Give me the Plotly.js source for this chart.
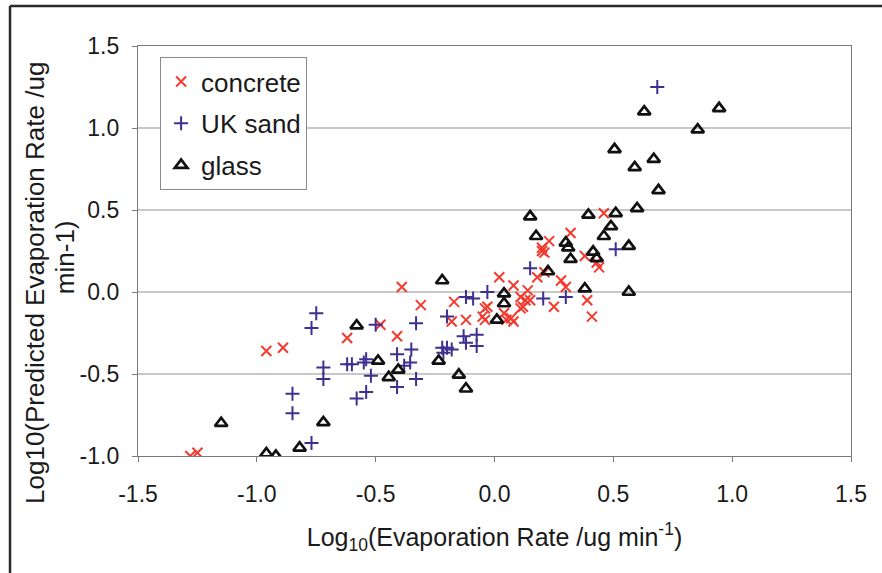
<!DOCTYPE html>
<html>
<head>
<meta charset="utf-8">
<script src="https://cdn.plot.ly/plotly-3.0.1.min.js"></script>
<style>
html,body{margin:0;padding:0;background:#fff;}
#chart{width:882px;height:573px;}
</style>
</head>
<body>
<div id="chart"></div>
<script>
// ---- data ----
const seriesNames = ["concrete", "UK sand", "glass"];

const concreteX = [-1.28,-1.25,-0.96,-0.89,-0.62,-0.48,-0.39,-0.31,-0.41,-0.18,-0.17,-0.12,-0.05,-0.04,-0.03,-0.04,
  0.02,0.08,0.11,0.14,0.15,0.11,0.07,0.04,0.05,0.18,0.21,0.25,0.28,0.30,0.39,0.41,0.20,0.20,0.21,0.23,0.32,0.38,0.44,0.43,0.46,0.12,0.08,0.13];
const concreteY = [-1.00,-0.98,-0.36,-0.34,-0.28,-0.20,0.03,-0.08,-0.27,-0.18,-0.06,-0.17,-0.15,-0.17,-0.09,-0.10,
  0.09,0.04,-0.03,0.01,-0.05,-0.10,-0.16,-0.13,-0.17,0.09,0.12,-0.09,0.07,0.03,-0.05,-0.15,0.25,0.27,0.24,0.31,0.36,0.22,0.15,0.18,0.48,-0.09,-0.18,-0.05];

const sandX = [-0.85,-0.85,-0.77,-0.77,-0.75,-0.72,-0.72,-0.62,-0.60,-0.55,-0.54,-0.52,-0.54,-0.58,-0.50,
  -0.41,-0.41,-0.38,-0.355,-0.35,-0.33,-0.33,-0.22,-0.20,-0.18,-0.215,-0.20,-0.13,-0.12,-0.075,-0.075,
  -0.12,-0.09,-0.03,0.15,0.205,0.30,0.51,0.685];
const sandY = [-0.62,-0.74,-0.92,-0.22,-0.13,-0.46,-0.53,-0.44,-0.44,-0.43,-0.41,-0.51,-0.61,-0.65,-0.20,
  -0.38,-0.58,-0.45,-0.43,-0.35,-0.53,-0.19,-0.34,-0.34,-0.35,-0.37,-0.15,-0.27,-0.31,-0.26,-0.33,
  -0.03,-0.04,0.00,0.145,-0.04,-0.03,0.26,1.25];

const glassX = [-1.15,-0.96,-0.92,-0.82,-0.72,-0.58,-0.49,-0.445,-0.405,-0.22,-0.235,-0.15,-0.12,
  0.04,0.04,0.01,0.15,0.175,0.225,0.30,0.31,0.32,0.38,0.395,0.415,0.43,0.46,0.49,0.51,0.565,0.565,
  0.60,0.59,0.505,0.63,0.67,0.69,0.855,0.945];
const glassY = [-0.80,-0.985,-1.00,-0.95,-0.795,-0.205,-0.42,-0.52,-0.475,0.07,-0.42,-0.505,-0.59,
  -0.01,-0.07,-0.17,0.46,0.34,0.125,0.30,0.27,0.20,0.02,0.47,0.245,0.205,0.34,0.40,0.48,0.28,0.00,
  0.51,0.76,0.87,1.10,0.81,0.62,0.99,1.12];

const xTickVals = [-1.5,-1.0,-0.5,0.0,0.5,1.0,1.5];
const xTickText = ["-1.5","-1.0","-0.5","0.0","0.5","1.0","1.5"];
const yTickVals = [-1.0,-0.5,0.0,0.5,1.0,1.5];
const yTickText = ["-1.0","-0.5","0.0","0.5","1.0","1.5"];

const xTitle = "Log<sub>10</sub>(Evaporation Rate /ug min<sup>-1</sup>)";
const yTitleLine1 = "Log10(Predicted Evaporation Rate /ug";
const yTitleLine2 = "min-1)";

// ---- traces ----
const FONT = "Liberation Sans, Arial, sans-serif";
const traces = [
  {x: concreteX, y: concreteY, name: seriesNames[0], type: "scatter", mode: "markers", legendgroup: "a",
   marker: {symbol: "x-thin", size: 10, line: {color: "#f43a2e", width: 2}, color: "#f43a2e"}},
  {x: sandX, y: sandY, name: seriesNames[1], type: "scatter", mode: "markers", legendgroup: "b",
   marker: {symbol: "cross-thin", size: 10, line: {color: "#3f2f8f", width: 2}, color: "#3f2f8f"}},
  {x: glassX, y: glassY, name: seriesNames[2], type: "scatter", mode: "markers", legendgroup: "c",
   marker: {symbol: "triangle-up-open", size: 11, color: "#111111", line: {color: "#111111", width: 2.7}}}
];

const layout = {
  width: 882, height: 573,
  margin: {l: 138, r: 31, t: 46, b: 117},
  paper_bgcolor: "#ffffff", plot_bgcolor: "#ffffff",
  font: {family: FONT, color: "#1a1a1a", size: 23},
  showlegend: true,
  legend: {
    x: 0.031, y: 0.973, xanchor: "left", yanchor: "top",
    bgcolor: "#ffffff", bordercolor: "#8a8a8a", borderwidth: 1,
    font: {family: FONT, size: 26, color: "#1a1a1a"},
    tracegroupgap: 5, traceorder: "grouped", itemwidth: 30
  },
  xaxis: {
    range: [-1.5, 1.5], tickvals: xTickVals, ticktext: xTickText,
    showgrid: false, zeroline: false,
    showline: true, linecolor: "#7a7a7a", linewidth: 1.2, mirror: true,
    ticks: "outside", ticklen: 5, tickcolor: "#7a7a7a",
    tickfont: {family: FONT, size: 23, color: "#1a1a1a"},
    ticklabelstandoff: 12,
    title: {text: xTitle, font: {family: FONT, size: 25, color: "#1a1a1a"}, standoff: 22}
  },
  yaxis: {
    range: [-1.0, 1.5], tickvals: yTickVals, ticktext: yTickText,
    showgrid: true, gridcolor: "#c8c8c8", gridwidth: 1.2, zeroline: false,
    showline: true, linecolor: "#7a7a7a", linewidth: 1.2, mirror: true,
    ticks: "outside", ticklen: 5, tickcolor: "#7a7a7a",
    tickfont: {family: FONT, size: 23, color: "#1a1a1a"},
    ticklabelstandoff: 8
  },
  annotations: [
    {text: yTitleLine1, xref: "paper", yref: "paper", x: -0.1445, y: 0.422, xanchor: "center", yanchor: "middle",
     textangle: -90, showarrow: false, font: {family: FONT, size: 26, color: "#1a1a1a"}},
    {text: yTitleLine2, xref: "paper", yref: "paper", x: -0.1024, y: 0.485, xanchor: "center", yanchor: "middle",
     textangle: -90, showarrow: false, font: {family: FONT, size: 26, color: "#1a1a1a"}}
  ],
  shapes: [
    {type: "line", xref: "paper", yref: "paper", x0: -0.1795, x1: -0.1795, y0: 1.0976, y1: -0.3, line: {color: "#2a2a2a", width: 2.5}},
    {type: "line", xref: "paper", yref: "paper", x0: -0.1795, x1: 1.06, y0: 1.0976, y1: 1.0976, line: {color: "#2a2a2a", width: 2.5}}
  ]
};

Plotly.newPlot("chart", traces, layout, {displayModeBar: false, staticPlot: true});
</script>
</body>
</html>
